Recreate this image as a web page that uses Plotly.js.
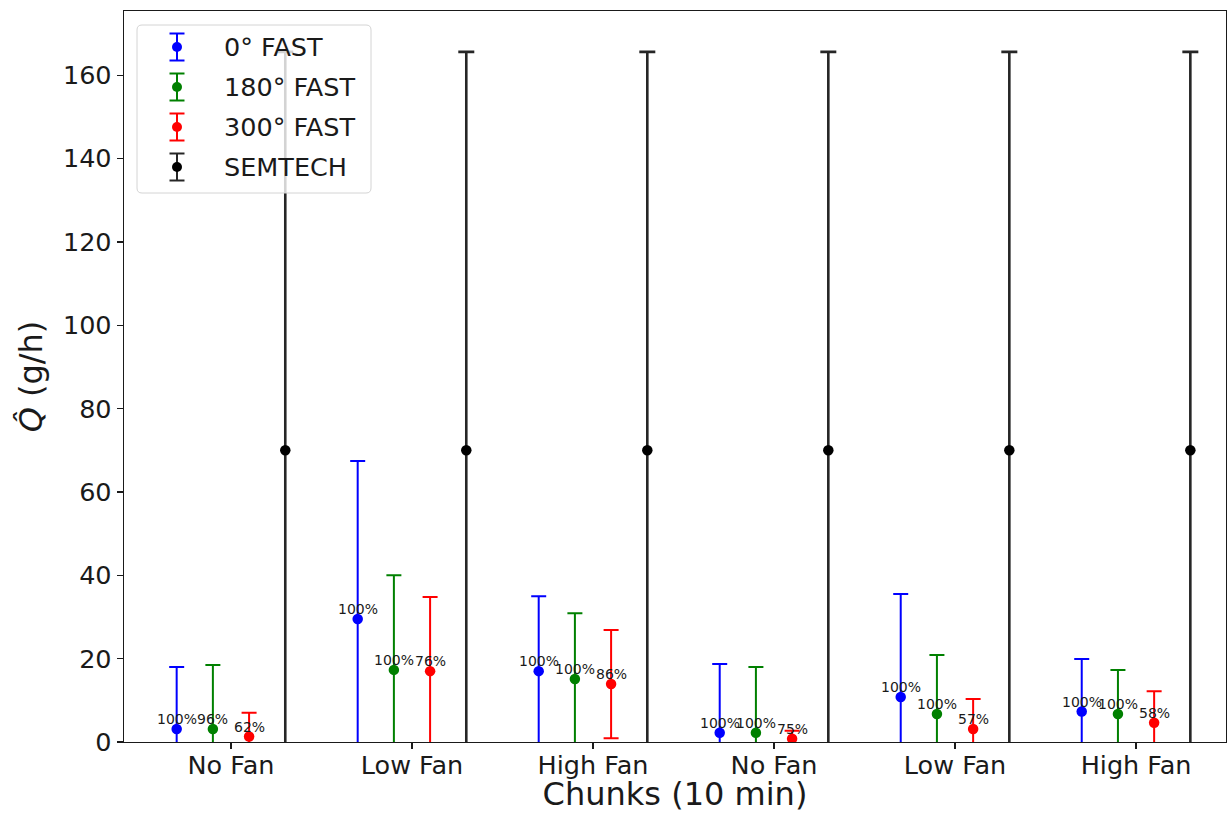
<!DOCTYPE html>
<html>
<head>
<meta charset="utf-8">
<script src="https://cdn.plot.ly/plotly-3.0.1.min.js"></script>
<style>html,body{margin:0;padding:0;background:#fff;} #chart{width:1227px;height:813px;}</style>
</head>
<body>
<div id="chart"></div>
<script>
// ---- data ----
const categories = ['No Fan', 'Low Fan', 'High Fan', 'No Fan', 'Low Fan', 'High Fan'];
const seriesNames = ['0° FAST', '180° FAST', '300° FAST', 'SEMTECH'];

const fast0     = [3.1, 29.5, 17.0, 2.2, 10.8, 7.3];
const fast0Err  = [14.9, 37.9, 18.0, 16.5, 24.7, 12.6];
const fast180    = [3.1, 17.3, 15.1, 2.2, 6.7, 6.7];
const fast180Err = [15.4, 22.7, 15.8, 15.8, 14.2, 10.6];
const fast300    = [1.3, 17.0, 13.9, 0.8, 3.1, 4.6];
const fast300Err = [5.7, 17.8, 13.0, 1.9, 7.2, 7.6];
const semtech    = [70.0, 70.0, 70.0, 70.0, 70.0, 70.0];
const semtechErr = [95.6, 95.6, 95.6, 95.6, 95.6, 95.6];

const pct0   = ['100%', '100%', '100%', '100%', '100%', '100%'];
const pct180 = ['96%', '100%', '100%', '100%', '100%', '100%'];
const pct300 = ['62%', '76%', '86%', '75%', '57%', '58%'];

// ---- styling ----
const FONT = 'DejaVu Sans, Verdana, sans-serif';
const colors = ['#0000ff', '#008000', '#ff0000', '#000000'];
const offsets = [-0.3, -0.1, 0.1, 0.3];
const values = [fast0, fast180, fast300, semtech];
const errs = [fast0Err, fast180Err, fast300Err, semtechErr];
const pcts = [pct0, pct180, pct300, null];

const W = 1227, H = 813, ML = 124, MR = 1, MT = 11, MB = 71;
const PW = W - ML - MR, PH = H - MT - MB;
const xp = px => (px - ML) / PW;
const yp = py => (H - MB - py) / PH;

const idx = categories.map((c, i) => i);

const traces = values.map((v, s) => ({
  type: 'scatter',
  mode: 'markers',
  name: seriesNames[s],
  x: idx.map(i => i + offsets[s]),
  y: v,
  marker: {color: colors[s], size: 10.5},
  error_y: {
    type: 'data', array: errs[s], symmetric: true,
    color: s === 3 ? '#262626' : colors[s],
    thickness: s === 3 ? 2.6 : 2,
    width: s === 3 ? 8 : 7.5
  },
  showlegend: false,
  cliponaxis: true,
  hoverinfo: 'x+y'
}));

const annotations = [];
pcts.forEach((p, s) => {
  if (!p) return;
  p.forEach((t, i) => {
    annotations.push({
      x: i + offsets[s], y: values[s][i], xref: 'x', yref: 'y',
      text: t, showarrow: false, xanchor: 'center', yanchor: 'bottom',
      yshift: 1, borderpad: 0,
      font: {family: FONT, size: 14, color: '#1a1a1a'}
    });
  });
});

// ---- manual legend (matplotlib-like errorbar glyphs) ----
const shapes = [];
const lx0 = 137, lx1 = 371, ly0 = 25, ly1 = 193, r = 5;
const path = [
  'M', xp(lx0 + r), yp(ly0),
  'L', xp(lx1 - r), yp(ly0),
  'Q', xp(lx1), yp(ly0), xp(lx1), yp(ly0 + r),
  'L', xp(lx1), yp(ly1 - r),
  'Q', xp(lx1), yp(ly1), xp(lx1 - r), yp(ly1),
  'L', xp(lx0 + r), yp(ly1),
  'Q', xp(lx0), yp(ly1), xp(lx0), yp(ly1 - r),
  'L', xp(lx0), yp(ly0 + r),
  'Q', xp(lx0), yp(ly0), xp(lx0 + r), yp(ly0), 'Z'
].join(' ');
shapes.push({type: 'path', xref: 'paper', yref: 'paper', path: path,
  fillcolor: 'rgba(255,255,255,0.8)', line: {color: '#d4d4d4', width: 1}, layer: 'above'});

seriesNames.forEach((name, s) => {
  const cy = 47 + 40 * s, cx = 177, hh = 13.5, cw = 7.5;
  const col = s === 3 ? '#262626' : colors[s];
  shapes.push({type: 'line', xref: 'paper', yref: 'paper', x0: xp(cx), x1: xp(cx), y0: yp(cy - hh), y1: yp(cy + hh), line: {color: col, width: 2}, layer: 'above'});
  shapes.push({type: 'line', xref: 'paper', yref: 'paper', x0: xp(cx - cw), x1: xp(cx + cw), y0: yp(cy - hh), y1: yp(cy - hh), line: {color: col, width: 2}, layer: 'above'});
  shapes.push({type: 'line', xref: 'paper', yref: 'paper', x0: xp(cx - cw), x1: xp(cx + cw), y0: yp(cy + hh), y1: yp(cy + hh), line: {color: col, width: 2}, layer: 'above'});
  shapes.push({type: 'circle', xref: 'paper', yref: 'paper', x0: xp(cx - 5), x1: xp(cx + 5), y0: yp(cy + 5), y1: yp(cy - 5), fillcolor: colors[s], line: {width: 0}, layer: 'above'});
  annotations.push({x: xp(223), y: yp(cy), xref: 'paper', yref: 'paper', text: name, showarrow: false,
    xanchor: 'left', yanchor: 'middle', borderpad: 0, font: {family: FONT, size: 25.5, color: '#1a1a1a'}});
});

const layout = {
  width: W, height: H,
  margin: {l: ML, r: MR, t: MT, b: MB, pad: 0},
  paper_bgcolor: '#ffffff', plot_bgcolor: '#ffffff',
  font: {family: FONT, size: 25.5, color: '#1a1a1a'},
  showlegend: false,
  xaxis: {
    range: [-0.591, 5.497],
    tickmode: 'array', tickvals: idx, ticktext: categories,
    showgrid: false, zeroline: false,
    showline: true, mirror: true, linecolor: '#1a1a1a', linewidth: 1.3,
    ticks: 'outside', ticklen: 6, tickwidth: 1.3, tickcolor: '#1a1a1a',
    ticklabelstandoff: -6,
    tickfont: {family: FONT, size: 25.5, color: '#1a1a1a'},
    title: {text: 'Chunks (10 min)', font: {family: FONT, size: 32, color: '#1a1a1a'}, standoff: 12},
    automargin: false
  },
  yaxis: {
    range: [0, 175.4],
    tickmode: 'array', tickvals: [0, 20, 40, 60, 80, 100, 120, 140, 160],
    showgrid: false, zeroline: false,
    showline: true, mirror: true, linecolor: '#1a1a1a', linewidth: 1.3,
    ticks: 'outside', ticklen: 6, tickwidth: 1.3, tickcolor: '#1a1a1a',
    tickfont: {family: FONT, size: 25.5, color: '#1a1a1a'},
    title: {text: '<i>Q\u0302</i> (g/h)', font: {family: FONT, size: 32, color: '#1a1a1a'}, standoff: 10},
    automargin: false
  },
  shapes: shapes,
  annotations: annotations
};

Plotly.newPlot('chart', traces, layout, {displayModeBar: false, staticPlot: true});
</script>
</body>
</html>
